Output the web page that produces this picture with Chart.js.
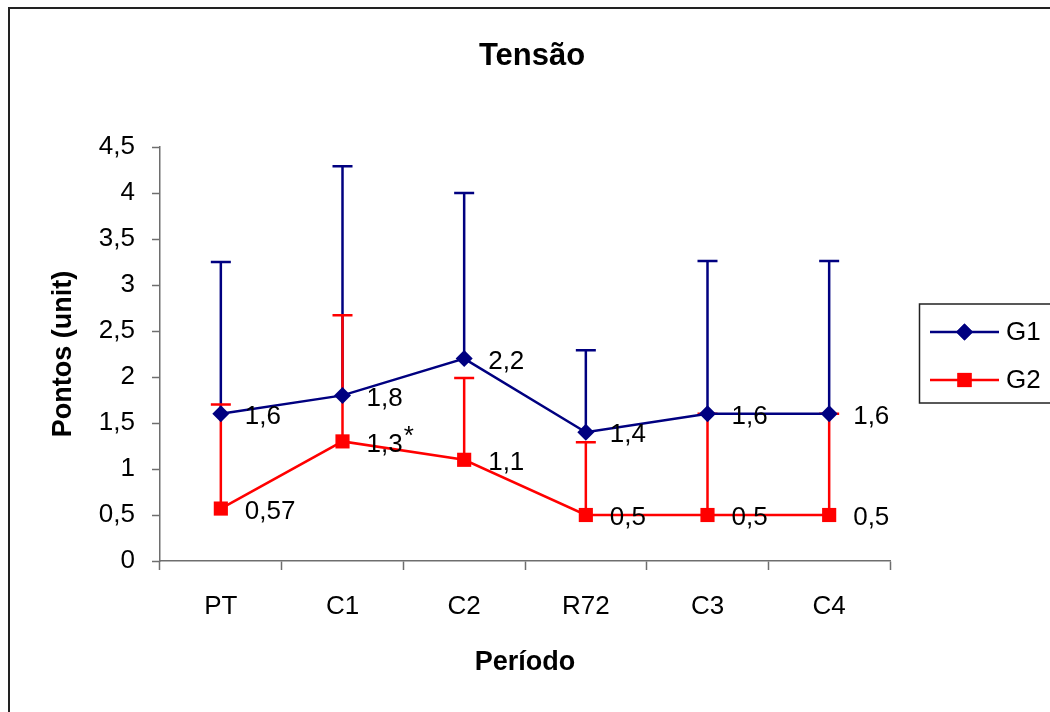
<!DOCTYPE html>
<html>
<head>
<meta charset="utf-8">
<script src="https://cdn.jsdelivr.net/npm/chart.js@4/dist/chart.umd.min.js"></script>
<style>
  html, body { margin: 0; padding: 0; background: #ffffff; }
  #c { display: block; }
</style>
</head>
<body>
<canvas id="c" width="1050" height="712"></canvas>
<script>
// ---- data ----
const chartTitle = 'Tensão';
const xTitle = 'Período';
const yTitle = 'Pontos (unit)';
const categories = ['PT', 'C1', 'C2', 'R72', 'C3', 'C4'];
const g1Values = [1.6, 1.8, 2.2, 1.4, 1.6, 1.6];
const g2Values = [0.57, 1.3, 1.1, 0.5, 0.5, 0.5];
const g1ErrorsPlus = [1.65, 2.49, 1.8, 0.89, 1.66, 1.66];
const g2ErrorsPlus = [1.13, 1.37, 0.89, 0.79, 1.1, 1.1];
const g1Labels = ['1,6', '1,8', '2,2', '1,4', '1,6', '1,6'];
const g2Labels = ['0,57', '1,3*', '1,1', '0,5', '0,5', '0,5'];
const yTickLabels = ['0', '0,5', '1', '1,5', '2', '2,5', '3', '3,5', '4', '4,5'];

const FONT = "'Liberation Sans', Arial, Helvetica, sans-serif";
const NAVY = '#000080';
const RED = '#FF0000';
const AXIS = '#6e6e6e';
const TXT = 26;

const errors = [g1ErrorsPlus, g2ErrorsPlus];
const pointLabels = [g1Labels, g2Labels];

const framePlugin = {
  id: 'frame',
  beforeDraw(chart) {
    const ctx = chart.ctx;
    ctx.save();
    ctx.fillStyle = '#ffffff';
    ctx.fillRect(0, 0, chart.width, chart.height);
    ctx.strokeStyle = '#222222';
    ctx.lineWidth = 2;
    ctx.strokeRect(9, 8, 1100, 800);
    ctx.fillStyle = '#000000';
    ctx.font = 'bold 31px ' + FONT;
    ctx.textAlign = 'center';
    ctx.textBaseline = 'middle';
    ctx.fillText(chartTitle, 532, 56);
    ctx.restore();
  }
};

const errorBarPlugin = {
  id: 'errorBars',
  beforeDatasetsDraw(chart) {
    const ctx = chart.ctx;
    const yScale = chart.scales.y;
    ctx.save();
    ctx.lineWidth = 2.5;
    for (let d = 0; d < chart.data.datasets.length; d++) {
      const ds = chart.data.datasets[d];
      const meta = chart.getDatasetMeta(d);
      ctx.strokeStyle = ds.borderColor;
      meta.data.forEach((pt, i) => {
        const topPx = yScale.getPixelForValue(ds.data[i] + errors[d][i]);
        ctx.beginPath();
        ctx.moveTo(pt.x, pt.y);
        ctx.lineTo(pt.x, topPx);
        ctx.moveTo(pt.x - 10, topPx);
        ctx.lineTo(pt.x + 10, topPx);
        ctx.stroke();
      });
    }
    ctx.restore();
  }
};

const labelPlugin = {
  id: 'pointLabels',
  afterDatasetsDraw(chart) {
    const ctx = chart.ctx;
    ctx.save();
    ctx.fillStyle = '#000000';
    ctx.font = TXT + 'px ' + FONT;
    ctx.textAlign = 'left';
    ctx.textBaseline = 'middle';
    for (let d = 0; d < chart.data.datasets.length; d++) {
      const meta = chart.getDatasetMeta(d);
      meta.data.forEach((pt, i) => {
        const txt = pointLabels[d][i];
        const parts = txt.split('*');
        const x = pt.x + 24;
        const y = pt.y + 3;
        ctx.fillText(parts[0], x, y);
        if (txt.indexOf('*') >= 0) {
          const w = ctx.measureText(parts[0]).width;
          ctx.fillText('*', x + w + 1, y - 8);
        }
      });
    }
    ctx.restore();
  }
};

const legendPlugin = {
  id: 'customLegend',
  afterDraw(chart) {
    const ctx = chart.ctx;
    ctx.save();
    ctx.strokeStyle = '#222222';
    ctx.lineWidth = 1.5;
    ctx.strokeRect(919.5, 304, 200, 99);
    const rows = [332, 380];
    chart.data.datasets.forEach((ds, d) => {
      const y = rows[d];
      ctx.strokeStyle = ds.borderColor;
      ctx.lineWidth = 2.5;
      ctx.beginPath();
      ctx.moveTo(930, y);
      ctx.lineTo(999, y);
      ctx.stroke();
      ctx.fillStyle = ds.pointBackgroundColor;
      if (Chart.helpers && Chart.helpers.drawPoint) {
        Chart.helpers.drawPoint(ctx, {pointStyle: ds.pointStyle, radius: ds.pointRadius, borderWidth: 0}, 964.5, y);
        ctx.fill();
      }
      ctx.fillStyle = '#000000';
      ctx.font = TXT + 'px ' + FONT;
      ctx.textAlign = 'left';
      ctx.textBaseline = 'middle';
      ctx.fillText(ds.label, 1006, y + 1);
    });
    ctx.restore();
  }
};

new Chart(document.getElementById('c'), {
  type: 'line',
  data: {
    labels: categories,
    datasets: [
      {
        label: 'G1',
        data: g1Values,
        borderColor: NAVY,
        backgroundColor: NAVY,
        pointBackgroundColor: NAVY,
        pointBorderColor: NAVY,
        pointBorderWidth: 0,
        pointStyle: 'rectRot',
        pointRadius: 8.5,
        borderWidth: 2.5,
        tension: 0,
        fill: false
      },
      {
        label: 'G2',
        data: g2Values,
        borderColor: RED,
        backgroundColor: RED,
        pointBackgroundColor: RED,
        pointBorderColor: RED,
        pointBorderWidth: 0,
        pointStyle: 'rect',
        pointRadius: 10,
        borderWidth: 2.5,
        tension: 0,
        fill: false
      }
    ]
  },
  options: {
    responsive: false,
    animation: false,
    devicePixelRatio: 1,
    layout: { padding: { left: 10, right: 160, top: 147, bottom: 31 } },
    plugins: {
      legend: { display: false },
      title: { display: false },
      tooltip: { enabled: false }
    },
    scales: {
      x: {
        type: 'category',
        offset: true,
        afterFit(scale) { scale.height = 120; },
        grid: { offset: true, drawOnChartArea: false, drawTicks: true, tickLength: 9, tickColor: AXIS, tickWidth: 1.5 },
        border: { display: true, color: AXIS, width: 1.5 },
        ticks: { color: '#000000', font: { family: FONT, size: TXT }, padding: 21, maxRotation: 0 },
        title: { display: true, text: xTitle, color: '#000000', font: { family: FONT, size: 27, weight: 'bold' }, padding: { top: 0, bottom: 2 } }
      },
      y: {
        min: 0,
        max: 4.5,
        afterFit(scale) { scale.width = 150; },
        ticks: {
          stepSize: 0.5,
          color: '#000000',
          font: { family: FONT, size: TXT },
          padding: 17,
          callback: (v, i) => yTickLabels[i]
        },
        grid: { drawOnChartArea: false, drawTicks: true, tickLength: 8, tickColor: AXIS, tickWidth: 1.5 },
        border: { display: true, color: AXIS, width: 1.5 },
        title: { display: true, text: yTitle, color: '#000000', font: { family: FONT, size: 27, weight: 'bold' }, padding: { top: 37, bottom: 0 } }
      }
    }
  },
  plugins: [framePlugin, errorBarPlugin, labelPlugin, legendPlugin]
});
</script>
</body>
</html>
